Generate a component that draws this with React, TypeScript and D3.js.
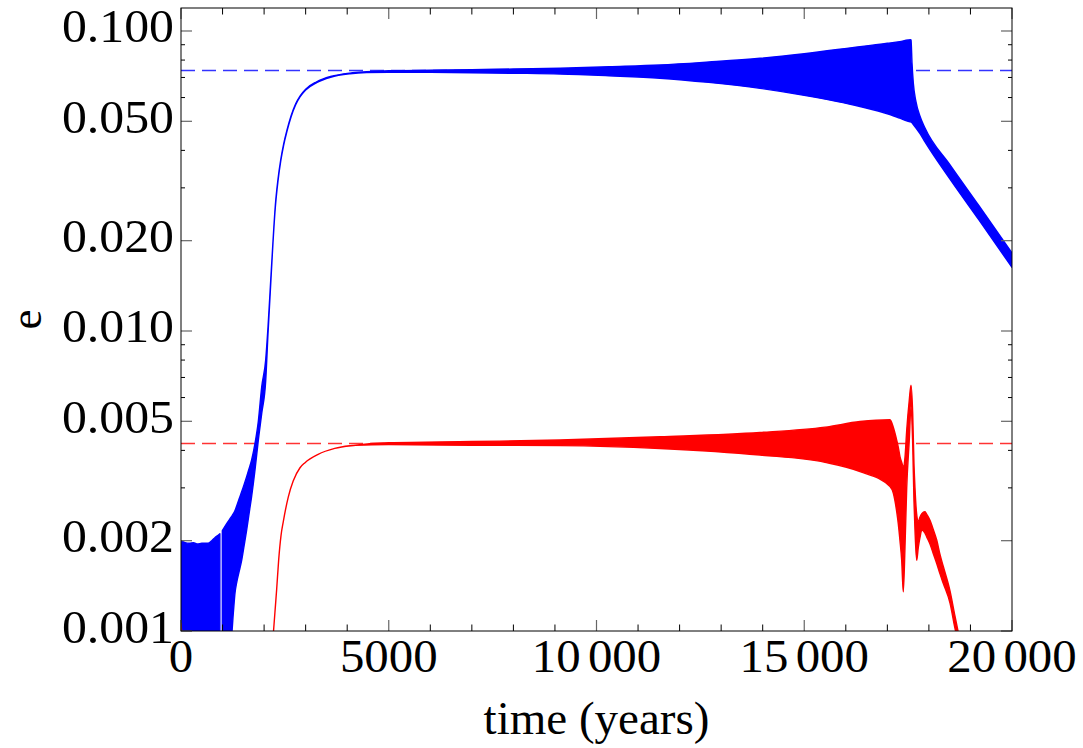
import React from 'react';
import * as d3 from 'd3';

// ---- axis ticks ----
const xMajorTicks = [0, 5000, 10000, 15000, 20000];
const xMajorLabels = ['0', '5000', '10 000', '15 000', '20 000'];
const xMinorTicks = [1000, 2000, 3000, 4000, 6000, 7000, 8000, 9000, 11000, 12000, 13000, 14000, 16000, 17000, 18000, 19000];
const yMajorTicks = [0.001, 0.002, 0.005, 0.01, 0.02, 0.05, 0.1];
const yMajorLabels = ['0.001', '0.002', '0.005', '0.010', '0.020', '0.050', '0.100'];
const yMinorTicks = [0.003, 0.004, 0.006, 0.007, 0.008, 0.009, 0.03, 0.04, 0.06, 0.07, 0.08, 0.09];

// ---- reference (dashed) levels ----
const blueLevel = 0.0738;
const redLevel = 0.00422;

// ---- blue series: envelope of oscillation (lo / hi), first segment ----
const blueT1 = [0, 100, 200, 300, 400, 500, 650, 740, 820, 900, 935];
const blueLo1 = [0.0009, 0.0009, 0.0009, 0.0009, 0.0009, 0.0009, 0.0009, 0.0009, 0.0009, 0.0009, 0.0009];
const blueHi1 = [0.0020, 0.00197, 0.00196, 0.00197, 0.00195, 0.00196, 0.00196, 0.0020, 0.00205, 0.00209, 0.00211];

// ---- blue series: second segment ----
const blueT2 = [995, 1100, 1210, 1260, 1300, 1340, 1400, 1460, 1520, 1580, 1640, 1700, 1781, 1861, 1942, 2038, 2094, 2150, 2214, 2270, 2334, 2400, 2470, 2550, 2650, 2760, 2864, 3000, 3265, 3600, 4067, 4468, 5000, 6000, 7000, 8000, 9122, 10300, 11528, 12700, 13935, 15000, 16342, 17000, 17300, 17500, 17560, 17570, 17594, 17625, 17690, 17786, 17906, 18500, 19200, 20000];
const blueLo2 = [0.0009, 0.0009, 0.00095, 0.00115, 0.00134, 0.00145, 0.00158, 0.00172, 0.00193, 0.00217, 0.00247, 0.00281, 0.00344, 0.00433, 0.0053, 0.0068, 0.0098, 0.0136, 0.0197, 0.0258, 0.0316, 0.0368, 0.0416, 0.0463, 0.0518, 0.0568, 0.0603, 0.0636, 0.0673, 0.0701, 0.0720, 0.0727, 0.0729, 0.0728, 0.0726, 0.0723, 0.0719, 0.0709, 0.0696, 0.0674, 0.0644, 0.0610, 0.0560, 0.0530, 0.0512, 0.0500, 0.0498, 0.0497, 0.0494, 0.0488, 0.0475, 0.0455, 0.0427, 0.0322, 0.0235, 0.0163];
const blueHi2 = [0.00216, 0.00228, 0.0024, 0.00246, 0.00252, 0.00261, 0.00276, 0.00291, 0.00308, 0.00327, 0.00348, 0.00372, 0.00422, 0.0050, 0.0065, 0.0080, 0.0103, 0.0140, 0.0199, 0.0262, 0.0320, 0.0372, 0.0420, 0.0467, 0.0522, 0.0572, 0.0607, 0.0640, 0.0677, 0.0705, 0.0724, 0.0731, 0.0737, 0.0740, 0.0743, 0.0747, 0.0751, 0.0760, 0.0770, 0.0788, 0.0811, 0.0840, 0.0887, 0.0910, 0.0922, 0.0933, 0.0935, 0.0933, 0.0780, 0.0670, 0.0580, 0.0520, 0.0475, 0.0359, 0.0262, 0.0182];

// ---- red series: tiny start segment ----
const redT0 = [0, 25];
const redLo0 = [0.00106, 0.00095];
const redHi0 = [0.00106, 0.00095];

// ---- red series: main segment ----
const redT = [2215, 2260, 2303, 2350, 2407, 2463, 2583, 2700, 2864, 2984, 3300, 3700, 4200, 5000, 7000, 9122, 11528, 13935, 15500, 16342, 17064, 17143, 17225, 17263, 17304, 17345, 17384, 17425, 17466, 17528, 17569, 17610, 17641, 17665, 17706, 17745, 17786, 17830, 17906, 17947, 18026, 18106, 18188, 18267, 18347, 18508, 18628, 18700];
const redLo = [0.00095, 0.00115, 0.00138, 0.00172, 0.00208, 0.00232, 0.0028, 0.00316, 0.0035, 0.00364, 0.00388, 0.00406, 0.00416, 0.00418, 0.00416, 0.00415, 0.00406, 0.00386, 0.00365, 0.0034, 0.00303, 0.00288, 0.0025, 0.00228, 0.002, 0.00172, 0.00135, 0.00191, 0.003, 0.00433, 0.0056, 0.0042, 0.0027, 0.00217, 0.00172, 0.0019, 0.00205, 0.00217, 0.00212, 0.00206, 0.00195, 0.00181, 0.00168, 0.00155, 0.00144, 0.00124, 0.00102, 0.00092];
const redHi = [0.00095, 0.00115, 0.00138, 0.00172, 0.00208, 0.00232, 0.0028, 0.00316, 0.0035, 0.00364, 0.00388, 0.00406, 0.00416, 0.00424, 0.00428, 0.00433, 0.00444, 0.00459, 0.00478, 0.00499, 0.00506, 0.00478, 0.00433, 0.0041, 0.00381, 0.00365, 0.00353, 0.0038, 0.00467, 0.00589, 0.0066, 0.00532, 0.0036, 0.003, 0.00245, 0.00232, 0.0024, 0.00246, 0.0025, 0.00245, 0.00234, 0.00218, 0.00201, 0.0018, 0.00164, 0.00136, 0.00112, 0.001];

const FONT = '"Liberation Serif", "Times New Roman", serif';
const BLUE = '#0000ff';
const RED = '#ff0000';

type P = { t: number; lo: number; hi: number };
const zip = (t: number[], lo: number[], hi: number[]): P[] => t.map((v, i) => ({ t: v, lo: lo[i], hi: hi[i] }));

function Label({ x, y, text, anchor, size, sx }: { x: number; y: number; text: string; anchor: string; size: number; sx: number }) {
  const parts = text.split(' ');
  return (
    <text transform={`translate(${x},${y}) scale(${sx},1)`} x={0} y={0} textAnchor={anchor} fontFamily={FONT} fontSize={size} fill="#000">
      {parts[0]}
      {parts.length > 1 ? <tspan dx={7}>{parts[1]}</tspan> : null}
    </text>
  );
}

export default function App() {
  const left = 181, right = 1012, top = 8, bottom = 631;
  const x = d3.scaleLinear().domain([0, 20000]).range([left, right]);
  const y = d3.scaleLog().domain([0.001, 0.1193]).range([bottom, top]);

  const area = d3
    .area<P>()
    .x((d) => x(d.t))
    .y0((d) => y(d.lo))
    .y1((d) => y(d.hi))
    .curve(d3.curveMonotoneX);

  const series = [
    { d: zip(blueT1, blueLo1, blueHi1), c: BLUE },
    { d: zip(blueT2, blueLo2, blueHi2), c: BLUE },
    { d: zip(redT0, redLo0, redHi0), c: RED },
    { d: zip(redT, redLo, redHi), c: RED },
  ];

  return (
    <svg width={1083} height={748} style={{ position: 'absolute', left: 0, top: 0, background: '#fff' }}>
      <defs>
        <clipPath id="plot">
          <rect x={left} y={top} width={right - left} height={bottom - top} />
        </clipPath>
      </defs>
      <rect x={0} y={0} width={1083} height={748} fill="#fff" />
      <g clipPath="url(#plot)">
        <line x1={left} x2={right} y1={y(blueLevel)} y2={y(blueLevel)} stroke={BLUE} strokeOpacity={0.8} strokeWidth={1.5} strokeDasharray="14,7" />
        <line x1={left} x2={right} y1={y(redLevel)} y2={y(redLevel)} stroke={RED} strokeOpacity={0.8} strokeWidth={1.5} strokeDasharray="14,7" />
        {series.map((s, i) => (
          <path key={i} d={area(s.d) || ''} fill={s.c} stroke={s.c} strokeWidth={1.4} strokeLinejoin="round" />
        ))}
      </g>
      {/* ticks */}
      <g>
        {xMajorTicks.map((t) => (
          <g key={'xM' + t}>
            <line x1={x(t)} x2={x(t)} y1={bottom} y2={bottom - 11} stroke="#666" strokeWidth={1.2} />
            <line x1={x(t)} x2={x(t)} y1={top} y2={top + 11} stroke="#666" strokeWidth={1.2} />
          </g>
        ))}
        {xMinorTicks.map((t) => (
          <g key={'xm' + t}>
            <line x1={x(t)} x2={x(t)} y1={bottom} y2={bottom - 6.5} stroke="#000" strokeWidth={1} />
            <line x1={x(t)} x2={x(t)} y1={top} y2={top + 6.5} stroke="#000" strokeWidth={1} />
          </g>
        ))}
        {yMajorTicks.map((v) => (
          <g key={'yM' + v}>
            <line x1={left} x2={left + 11} y1={y(v)} y2={y(v)} stroke="#666" strokeWidth={1.2} />
            <line x1={right} x2={right - 11} y1={y(v)} y2={y(v)} stroke="#666" strokeWidth={1.2} />
          </g>
        ))}
        {yMinorTicks.map((v) => (
          <g key={'ym' + v}>
            <line x1={left} x2={left + 4} y1={y(v)} y2={y(v)} stroke="#000" strokeWidth={1} />
            <line x1={right} x2={right - 4} y1={y(v)} y2={y(v)} stroke="#000" strokeWidth={1} />
          </g>
        ))}
      </g>
      {/* frame */}
      <rect x={left} y={top} width={right - left} height={bottom - top} fill="none" stroke="#000" strokeWidth={1} />
      {/* labels */}
      {xMajorTicks.map((t, i) => (
        <Label key={'xl' + t} x={x(t)} y={672} text={xMajorLabels[i]} anchor="middle" size={47} sx={1.04} />
      ))}
      {yMajorTicks.map((v, i) => (
        <Label key={'yl' + v} x={174} y={y(v) + 11.5} text={yMajorLabels[i]} anchor="end" size={47} sx={1.06} />
      ))}
      <text x={(left + right) / 2} y={734} textAnchor="middle" fontFamily={FONT} fontSize={47} fill="#000">
        time (years)
      </text>
      <text transform={`translate(41,${(top + bottom) / 2}) rotate(-90)`} textAnchor="middle" fontFamily={FONT} fontSize={45} fill="#000">
        e
      </text>
    </svg>
  );
}
